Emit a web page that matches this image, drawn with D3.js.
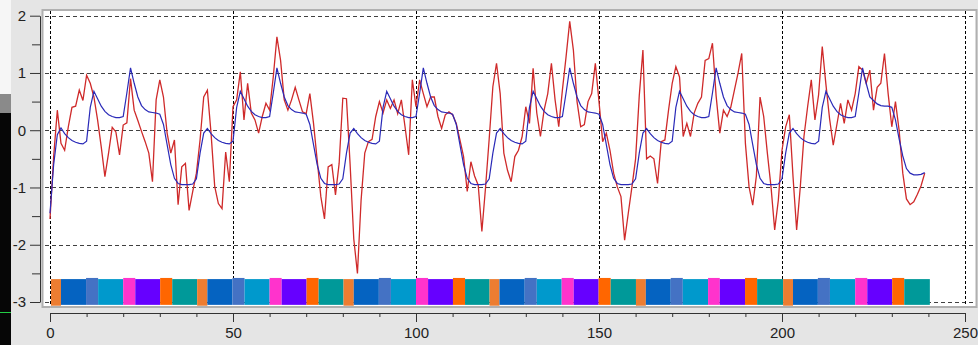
<!DOCTYPE html>
<html>
<head>
<meta charset="utf-8">
<script src="https://cdn.jsdelivr.net/npm/d3@7"></script>
<style>
body { margin: 0; background: #e5e5e5; }
svg { display: block; font-family: "Liberation Sans", Arial, sans-serif; }
</style>
</head>
<body>
<div id="chart"></div>
<script>
// red = raw signal, blue = smoothed template (sample index 0..239)
var redValues = [
	-1.55,-0.46,0.35,-0.23,-0.35,0.06,0.40,0.42,0.70,0.52,
	0.96,0.82,0.58,0.18,-0.29,-0.81,-0.40,0.05,-0.03,-0.43,
	0.09,0.13,0.90,0.35,0.17,-0.02,-0.20,-0.40,-0.90,0.53,
	0.88,0.58,-0.05,-0.40,-0.17,-1.30,-0.64,-0.58,-1.40,-1.07,
	-0.75,-0.17,0.58,0.70,-0.05,-0.98,-1.28,-1.37,-0.38,-0.90,
	0.41,0.53,1.02,0.18,0.82,0.30,0.18,-0.05,0.24,0.47,
	0.35,0.93,1.63,1.22,0.53,0.35,0.53,0.75,0.53,0.32,
	0.29,0.64,0.12,-0.52,-1.16,-1.55,-0.64,-0.60,-1.13,-0.58,
	0.56,0.55,-0.60,-1.90,-2.50,-1.22,-0.40,-0.20,-0.16,0.24,
	0.50,0.30,0.53,0.38,0.53,0.29,0.53,0.06,-0.43,0.88,
	0.41,0.88,0.64,0.41,0.58,0.58,0.24,0.03,0.27,0.32,
	0.27,0.12,-0.17,-0.46,-1.07,-0.55,-0.80,-0.96,-1.77,-1.00,
	-0.15,0.76,1.17,0.64,-0.40,-0.70,-0.90,-0.46,-0.35,-0.11,
	0.41,0.12,1.08,0.30,-0.11,0.35,0.64,1.17,0.53,0.06,
	0.70,1.28,1.90,1.40,0.50,0.06,0.10,0.50,0.64,1.17,
	0.50,-0.20,-0.05,-0.35,-0.75,-0.99,-1.16,-1.92,-1.45,-0.99,
	-0.50,0.60,1.40,-0.50,-0.45,-0.50,-0.93,-0.20,-0.17,0.35,
	0.82,1.11,0.93,-0.11,0.12,-0.11,0.30,0.47,0.58,1.22,
	1.25,1.52,0.60,-0.05,0.35,0.24,0.40,0.70,1.00,1.34,
	-0.23,-0.99,-1.31,-0.80,0.58,0.24,-0.40,-0.99,-1.74,-1.22,
	-0.35,0.06,0.27,-0.80,-1.74,-0.99,-0.11,0.41,0.88,0.18,
	0.62,1.46,0.80,0.20,-0.26,0.10,0.47,0.12,0.53,0.35,
	0.64,1.11,1.05,0.82,1.05,0.35,0.75,0.82,1.34,0.64,
	0.06,0.50,0.00,-0.75,-1.20,-1.30,-1.25,-1.12,-0.97,-0.75
];

var blueValues = [
	-1.45,-0.60,-0.08,0.04,-0.06,-0.13,-0.18,-0.21,-0.23,-0.24,
	-0.19,0.40,0.68,0.55,0.42,0.33,0.27,0.24,0.22,0.22,
	0.24,0.65,1.09,0.82,0.58,0.43,0.36,0.32,0.31,0.30,
	0.28,0.10,-0.25,-0.60,-0.84,-0.93,-0.95,-0.95,-0.95,-0.94,
	-0.85,-0.40,-0.05,0.03,-0.06,-0.13,-0.18,-0.21,-0.23,-0.24,
	-0.19,0.40,0.68,0.55,0.42,0.33,0.27,0.24,0.22,0.22,
	0.24,0.65,1.09,0.82,0.58,0.43,0.36,0.32,0.31,0.30,
	0.28,0.10,-0.25,-0.60,-0.84,-0.93,-0.95,-0.95,-0.95,-0.94,
	-0.85,-0.40,-0.05,0.03,-0.06,-0.13,-0.18,-0.21,-0.23,-0.24,
	-0.19,0.40,0.68,0.55,0.42,0.33,0.27,0.24,0.22,0.22,
	0.24,0.65,1.09,0.82,0.58,0.43,0.36,0.32,0.31,0.30,
	0.28,0.10,-0.25,-0.60,-0.84,-0.93,-0.95,-0.95,-0.95,-0.94,
	-0.85,-0.40,-0.05,0.03,-0.06,-0.13,-0.18,-0.21,-0.23,-0.24,
	-0.19,0.40,0.68,0.55,0.42,0.33,0.27,0.24,0.22,0.22,
	0.24,0.65,1.09,0.82,0.58,0.43,0.36,0.32,0.31,0.30,
	0.28,0.10,-0.25,-0.60,-0.84,-0.93,-0.95,-0.95,-0.95,-0.94,
	-0.85,-0.40,-0.05,0.03,-0.06,-0.13,-0.18,-0.21,-0.23,-0.24,
	-0.19,0.40,0.68,0.55,0.42,0.33,0.27,0.24,0.22,0.22,
	0.24,0.65,1.09,0.82,0.58,0.43,0.36,0.32,0.31,0.30,
	0.28,0.10,-0.25,-0.60,-0.84,-0.93,-0.95,-0.95,-0.95,-0.94,
	-0.85,-0.40,-0.05,0.03,-0.06,-0.13,-0.18,-0.21,-0.23,-0.24,
	-0.19,0.40,0.68,0.55,0.42,0.33,0.27,0.24,0.22,0.22,
	0.24,0.65,1.09,0.82,0.58,0.52,0.46,0.43,0.42,0.42,
	0.40,0.18,-0.15,-0.45,-0.67,-0.75,-0.78,-0.78,-0.77,-0.74
];

// phase strip along the bottom
var phases = ["p1", "p2", "p3", "p4", "p5", "p6", "p7", "p8"];
var phaseTop = [-2.6, -2.6, -2.58, -2.6, -2.58, -2.6, -2.58, -2.6];
var phaseBottom = [-3.065, -3.05, -3.05, -3.05, -3.05, -3.05, -3.05, -3.05];
var segStarts = [
	0.27, 3, 9.85, 13.15, 20, 23.3, 30.1, 33.4,
	40.2, 43, 49.85, 53.15, 60, 63.3, 70.1, 73.4,
	80.2, 83, 89.85, 93.15, 100, 103.3, 110.1, 113.4,
	120.1, 122.8, 129.7, 133, 139.8, 143.1, 149.9, 153.2,
	160.1, 162.8, 169.6, 172.9, 179.8, 183, 189.9, 193.2,
	200.3, 203, 209.8, 213.1, 220, 223.3, 230.1, 233.4
];
var segLastEnd = 240.4;

var xTicks = [0, 50, 100, 150, 200, 250];
var xMinor = [10, 20, 30, 40, 60, 70, 80, 90, 110, 120, 130, 140, 160, 170, 180, 190, 210, 220, 230, 240];
var yTicks = [-3, -2, -1, 0, 1, 2];
var yMinor = [-2.5, -1.5, -0.5, 0.5, 1.5];

var phaseColors = ["#ed7d31", "#0563c1", "#4472c4", "#0099cc", "#ff33cc", "#6600ff", "#ff6600", "#009999"];

var svg = d3.select("#chart")
	.append("svg")
	.attr("width", 978)
	.attr("height", 345);

var x = d3.scaleLinear().domain([0, 250]).range([50, 965]);
var y = d3.scaleLinear().domain([-3, 2]).range([302, 15.7]);
var color = d3.scaleOrdinal().domain(phases).range(phaseColors);

// background bits
svg.append("rect").attr("x", 0).attr("y", 0).attr("width", 978).attr("height", 345).attr("fill", "#e5e5e5");
svg.append("rect").attr("x", 0).attr("y", 0).attr("width", 11).attr("height", 94).attr("fill", "#f6f6f6");
svg.append("rect").attr("x", 0).attr("y", 94).attr("width", 11).attr("height", 19).attr("fill", "#8a8a8a");
svg.append("rect").attr("x", 0).attr("y", 113).attr("width", 11).attr("height", 232).attr("fill", "#060606");
svg.append("line").attr("x1", 0).attr("x2", 11).attr("y1", 312.5).attr("y2", 312.5)
	.attr("stroke", "#22cc44").attr("stroke-width", 1);

// plot canvas
svg.append("rect")
	.attr("x", 42.5)
	.attr("y", 10)
	.attr("width", 934)
	.attr("height", 297)
	.attr("fill", "#ffffff")
	.attr("stroke", "#b0b0b0")
	.attr("stroke-width", 2);

// grid
svg.selectAll(".hgrid")
	.data(yTicks)
	.enter()
	.append("line")
	.attr("class", "hgrid")
	.attr("x1", 45)
	.attr("x2", 975)
	.attr("y1", d => Math.round(y(d)) + 0.5)
	.attr("y2", d => Math.round(y(d)) + 0.5)
	.attr("stroke", "#404040")
	.attr("stroke-dasharray", "4,3");

svg.selectAll(".vgrid")
	.data(xTicks)
	.enter()
	.append("line")
	.attr("class", "vgrid")
	.attr("x1", d => Math.round(x(d)) + 0.5)
	.attr("x2", d => Math.round(x(d)) + 0.5)
	.attr("y1", 11)
	.attr("y2", 306)
	.attr("stroke", "#000")
	.attr("stroke-dasharray", "3,2");

// phase strip
var segs = segStarts.map((s, i) => ({
	start: s,
	end: i < segStarts.length - 1 ? segStarts[i + 1] : segLastEnd,
	phase: phases[i % phases.length],
	k: i % phases.length
}));

svg.selectAll(".seg")
	.data(segs)
	.enter()
	.append("rect")
	.attr("class", "seg")
	.attr("x", d => x(d.start))
	.attr("width", d => x(d.end) - x(d.start))
	.attr("y", d => y(phaseTop[d.k]))
	.attr("height", d => y(phaseBottom[d.k]) - y(phaseTop[d.k]))
	.attr("fill", d => color(d.phase));

// lines
var line = d3.line()
	.x((d, i) => x(i))
	.y(d => y(d));

svg.append("path")
	.datum(redValues)
	.attr("d", line)
	.attr("fill", "none")
	.attr("stroke", "#cf2a2a")
	.attr("stroke-width", 1.3);

svg.append("path")
	.datum(blueValues)
	.attr("d", line)
	.attr("fill", "none")
	.attr("stroke", "#2a2ab8")
	.attr("stroke-width", 1.2);

// axes
var xAxis = svg.append("g")
	.attr("transform", "translate(0,313)")
	.call(d3.axisBottom(x).tickValues(xTicks).tickSize(9).tickPadding(5).tickSizeOuter(0).tickFormat(d => String(d)));
svg.append("g")
	.attr("transform", "translate(0,313)")
	.call(d3.axisBottom(x).tickValues(xMinor).tickSize(4).tickFormat("").tickSizeOuter(0))
	.select(".domain").remove();

var yAxis = svg.append("g")
	.attr("transform", "translate(40,0)")
	.call(d3.axisLeft(y).tickValues(yTicks).tickSize(10).tickPadding(4).tickSizeOuter(0).tickFormat(d => String(d)));
svg.append("g")
	.attr("transform", "translate(40,0)")
	.call(d3.axisLeft(y).tickValues(yMinor).tickSize(8).tickFormat("").tickSizeOuter(0))
	.select(".domain").remove();

svg.selectAll(".tick line").attr("stroke", "#333");
svg.selectAll(".domain").attr("stroke", "#333");
svg.selectAll(".tick text")
	.style("font-size", "15px")
	.style("font-family", "'Liberation Sans', Arial, sans-serif")
	.attr("fill", "#222");
</script>
</body>
</html>
